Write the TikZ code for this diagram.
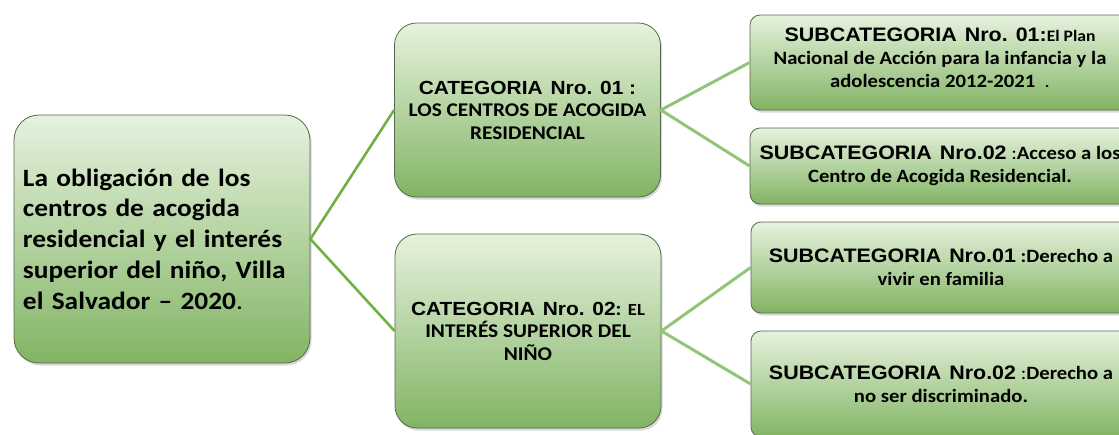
\documentclass[tikz,border=0pt]{standalone}
\usepackage{fontspec}
\setmainfont{Carlito}[FakeStretch=1.1]
\newfontfamily\arialf{Liberation Sans}[FakeStretch=1.1]
\usetikzlibrary{shadows}
\definecolor{verdeclaro}{RGB}{230,242,222}
\definecolor{verdeosc}{RGB}{130,180,100}
\definecolor{borde}{RGB}{85,105,75}
\definecolor{lineaA}{RGB}{110,178,65}
\definecolor{lineaB}{RGB}{145,198,120}
\begin{document}
\begin{tikzpicture}[x=1pt,y=-1pt,
    caja/.style={draw=borde,line width=0.8pt,top color=verdeclaro,bottom color=verdeosc,
        drop shadow={opacity=0.3,shadow xshift=1.5pt,shadow yshift=-2.5pt},
        inner sep=0pt,align=center,font=\bfseries},
    raiz/.style={caja,rounded corners=25pt,minimum width=296pt,minimum height=248pt,
        text width=278pt,align=left,font=\bfseries\fontsize{24.9}{30.7}\selectfont},
    cat/.style={caja,rounded corners=22pt,minimum width=266pt,
        font=\bfseries\fontsize{19.4}{22.5}\selectfont},
    sub/.style={caja,rounded corners=10pt,minimum width=380pt,
        font=\bfseries\fontsize{18.8}{23}\selectfont},
    enlaceA/.style={draw=lineaA,line width=2.6pt},
    enlaceB/.style={draw=lineaB,line width=3pt}]
    \useasboundingbox (0,0) rectangle (1119,434);
    \def\ar#1{{\arialf\fontsize{19.5}{23}\selectfont #1}}%
    % nivel 1
    \node[raiz] (root) at (162,239) {La obligación de los\\centros de acogida\\residencial y el interés\\superior del niño, Villa\\el Salvador -- 2020\mdseries.};
    % nivel 2
    \node[cat,minimum height=174pt] (cat1) at (527.5,110)
        {{\arialf\fontsize{19}{22.5}\selectfont CATEGORIA\hspace{8pt}Nro. 01 :}\\LOS CENTROS DE ACOGIDA\\RESIDENCIAL};
    \node[cat,minimum height=194pt] (cat2) at (528,331)
        {{\arialf\fontsize{19}{22.5}\selectfont CATEGORIA\hspace{8pt}Nro. 02}: {\fontsize{17}{22.5}\selectfont EL}\\INTERÉS SUPERIOR DEL\\NIÑO};
    % nivel 3
    \node[sub,minimum height=95pt] (sub11) at (940,62.5)
        {\ar{SUBCATEGORIA\hspace{8pt}Nro. 01:}{\fontsize{16}{23}\selectfont El Plan}\\Nacional de Acción para la infancia y la\\adolescencia 2012-2021\ \ \mdseries.\\[-13pt]};
    \node[sub,minimum height=76pt] (sub12) at (940,166)
        {\ar{SUBCATEGORIA\hspace{8pt}Nro.02}\ \mdseries:\bfseries Acceso a los\\Centro de Acogida Residencial.};
    \node[sub,minimum height=91pt] (sub21) at (941,267.5)
        {\ar{SUBCATEGORIA\hspace{8pt}Nro.01}\ :Derecho a\\vivir en familia};
    \node[sub,minimum height=106pt] (sub22) at (941,384)
        {\ar{SUBCATEGORIA\hspace{8pt}Nro.02}\ \mdseries:\bfseries Derecho a\\no ser discriminado.};
    % conectores
    \draw[enlaceA] (cat1.west)--(root.east)--(cat2.west);
    \draw[enlaceB] (sub11.west)--(cat1.east)--(sub12.west);
    \draw[enlaceB] (sub21.west)--(cat2.east)--(sub22.west);
\end{tikzpicture}
\end{document}
